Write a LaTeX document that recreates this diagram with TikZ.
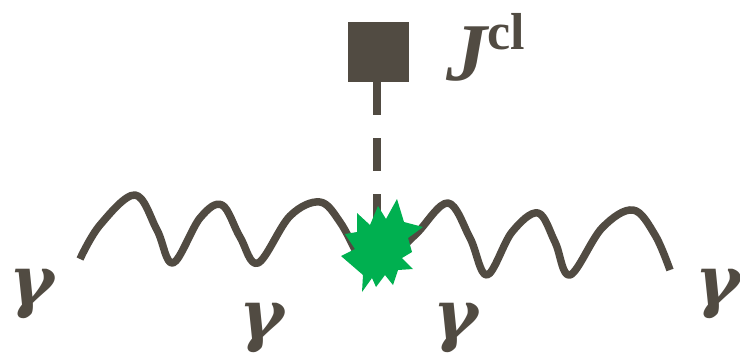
\documentclass[tikz,border=0pt]{standalone}
\usepackage{fontspec}
\setmainfont{Liberation Serif}
\newfontfamily\gfont{DejaVu Serif}
\begin{document}
\begin{tikzpicture}[x=1pt,y=-1pt,
  ink/.style={draw=inkc,line width=7.5pt},
  photon/.style={ink,line cap=butt,line join=round},
  lbl/.style={text=inkc,inner sep=0pt,anchor=base,font=\gfont\fontsize{68}{68}\selectfont\bfseries\itshape}]
\definecolor{inkc}{HTML}{514B42}
\definecolor{starc}{HTML}{00B050}
\useasboundingbox (0,0) rectangle (740,354);
% source square
\node[fill=inkc,minimum width=61pt,minimum height=60pt,inner sep=0pt] (src) at (378.5,52) {};
\node[text=inkc,inner sep=0pt,anchor=base west] (J) at (446,80)
  {\fontsize{82}{82}\selectfont\bfseries\itshape J\raisebox{31pt}{\fontsize{52}{52}\selectfont\upshape cl}};
% dashed line
\draw[draw=inkc,line width=8pt,dash pattern=on 33pt off 23pt] (src.south -| 377,0) -- (377,240);
% photon lines
\draw[photon] plot[smooth,tension=0.6] coordinates {(80,259) (100,225) (135,195) (157,230) (173,263) (200,218) (222,205) (240,237) (258,263) (290,216) (320,202) (340,222) (356,252)};
\draw[photon] plot[smooth,tension=0.6] coordinates {(400,250) (418,232) (448,203) (470,238) (487,275) (512,232) (538,213) (555,242) (570,275) (602,228) (633,210) (655,235) (670,270)};
% vertex star
\fill[starc] (397,199) -- (404,222) -- (423,227) -- (408,238) -- (412,252) -- (402,258) -- (413,269) -- (398,270) -- (393,285) -- (385,275) -- (376,287) -- (372,278) -- (362,292) -- (363,275) -- (341,256) -- (355,249) -- (345,234) -- (357,232) -- (357,213) -- (370,225) -- (378,206) -- (386,219) -- cycle;
% labels
\node[lbl] (g1) at (32,304) {γ};
\node[lbl] (g2) at (262,338) {γ};
\node[lbl] (g3) at (456,338) {γ};
\node[lbl] (g4) at (718,304) {γ};
\end{tikzpicture}
\end{document}
